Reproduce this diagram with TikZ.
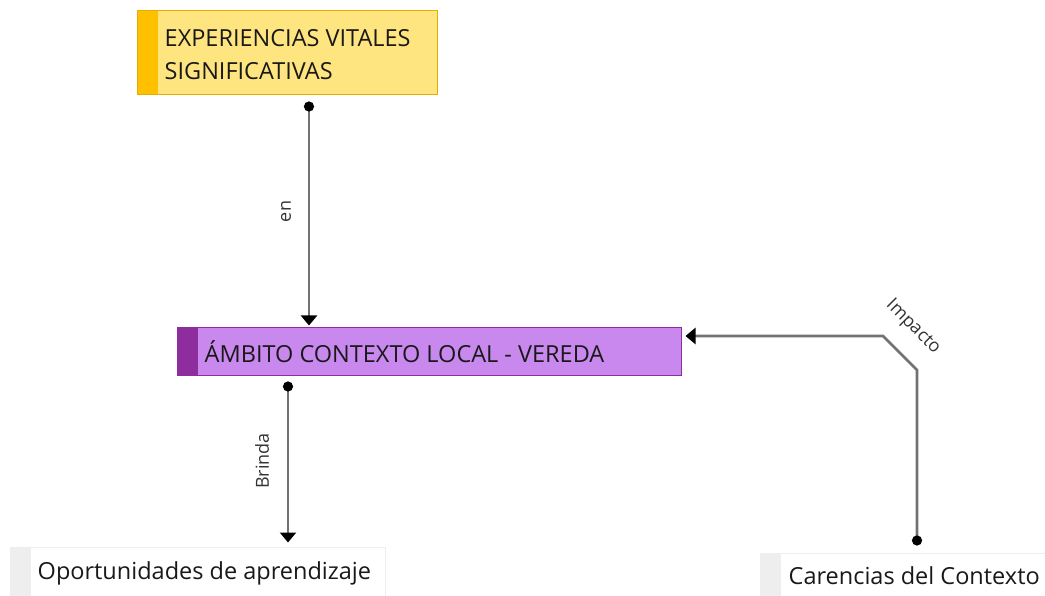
\documentclass[tikz,border=0pt]{standalone}
\usepackage{fontspec}
\setmainfont{Open Sans}
\usetikzlibrary{arrows.meta}

\definecolor{amarillo}{HTML}{FFE57F}
\definecolor{amarilloB}{HTML}{FFC000}
\definecolor{morado}{HTML}{C988EE}
\definecolor{moradoB}{HTML}{8E2E9E}
\definecolor{grisB}{HTML}{EEEEEE}
\definecolor{linea}{HTML}{727272}

\begin{document}
\begin{tikzpicture}[x=1pt,y=-1pt,
        concepto/.style n args={3}{draw=#3,fill=#1,line width=1pt,inner sep=0pt,
            path picture={\fill[#2] (path picture bounding box.north west)
                rectangle ([xshift=21pt]path picture bounding box.south west);}},
        texto/.style={anchor=west,align=left,inner sep=0pt,text=black!90,
            font=\fontsize{23.5}{33}\selectfont},
        enlace/.style={draw=linea,line width=2.8pt,
            {Circle[length=10pt,color=black]}-{Triangle[length=10pt,width=16pt,color=black]}},
        rotulo/.style={text=black!80,font=\fontsize{18}{20}\selectfont,inner sep=0pt}]

    \useasboundingbox (0,0) rectangle (1045,596);

    \node[concepto={amarillo}{amarilloB}{amarilloB!90!black},minimum width=300pt,minimum height=84pt] (exp) at (287,53) {};
    \node[texto] (expT) at ([xshift=28pt,yshift=-2pt]exp.west) {EXPERIENCIAS VITALES\\SIGNIFICATIVAS};

    \node[concepto={morado}{moradoB}{moradoB},minimum width=504pt,minimum height=47pt] (vereda) at (429,351.5) {};
    \node[texto] (veredaT) at ([xshift=28pt]vereda.west) {ÁMBITO CONTEXTO LOCAL - VEREDA};

    \node[concepto={white}{grisB}{grisB},minimum width=375pt,minimum height=52pt] (oport) at (197.5,573) {};
    \node[texto] (oportT) at ([xshift=28pt]oport.west) {Oportunidades de aprendizaje};

    \node[concepto={white}{grisB}{grisB},minimum width=288pt,minimum height=46pt] (car) at (904,576) {};
    \node[texto] (carT) at ([xshift=29pt]car.west) {Carencias del Contexto};

    \coordinate (k1) at (917,370);
    \coordinate (k2) at (883,336);

    \draw[enlace,shorten <=6pt,shorten >=2pt] ([xshift=22pt]exp.south) -- ([xshift=22pt]exp.south |- vereda.north)
        node[rotulo,midway,xshift=-23pt,rotate=90] (en) {en};
    \draw[enlace,shorten <=6pt,shorten >=4pt] ([xshift=-141pt]vereda.south) -- ([xshift=-141pt]vereda.south |- oport.north)
        node[rotulo,midway,xshift=-26pt,rotate=90] (brinda) {Brinda};
    \draw[enlace,shorten <=7pt,shorten >=4pt] ([xshift=13pt]car.north) -- ([xshift=13pt]car.north |- k1) -- (k2) -- (k2 -| vereda.east);
    \node[rotulo,rotate=-45] (impacto) at (913,327) {Impacto};
\end{tikzpicture}
\end{document}
